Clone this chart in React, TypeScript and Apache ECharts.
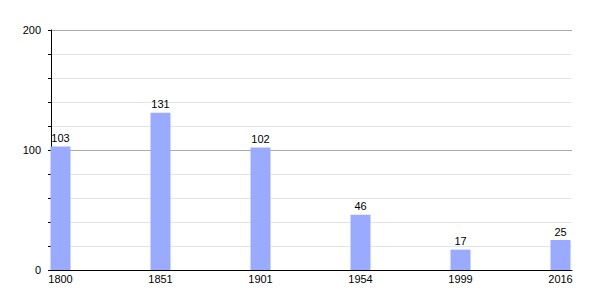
import React, { useEffect, useRef } from "react";
import * as echarts from "echarts";

const years = ["1800", "1851", "1901", "1954", "1999", "2016"];
const population = [103, 131, 102, 46, 17, 25];
const yMin = 0;
const yMax = 200;
const yInterval = 100;

export default function App() {
  const ref = useRef<HTMLDivElement>(null);
  useEffect(() => {
    if (!ref.current) return;
    const chart = echarts.init(ref.current, null, { renderer: "svg" });
    const font = "Liberation Sans, Arial, sans-serif";
    chart.setOption({
      animation: false,
      backgroundColor: "#ffffff",
      textStyle: { fontFamily: font },
      grid: [
        { left: 51, right: 28, top: 30, bottom: 30 },
        { left: 60.5, right: 39.5, top: 30, bottom: 30 },
      ],
      xAxis: [
        {
          type: "value",
          gridIndex: 0,
          min: 0,
          max: 1,
          axisLine: { show: true, lineStyle: { color: "#000", width: 1 } },
          axisTick: { show: false },
          axisLabel: { show: false },
          splitLine: { show: false },
        },
        {
          type: "category",
          gridIndex: 1,
          data: years,
          boundaryGap: false,
          axisLine: { show: false },
          axisTick: { show: false },
          axisLabel: { color: "#000", fontSize: 11, margin: 3, fontFamily: font },
          splitLine: { show: false },
        },
      ],
      yAxis: [
        {
          type: "value",
          gridIndex: 0,
          min: yMin,
          max: yMax,
          interval: yInterval,
          axisLine: { show: true, lineStyle: { color: "#000", width: 1 } },
          axisTick: { show: true, length: 3, lineStyle: { color: "#000" } },
          minorTick: { show: true, splitNumber: 5, length: 3, lineStyle: { color: "#000" } },
          axisLabel: { color: "#000", fontSize: 11, margin: 10, fontFamily: font },
          splitLine: { show: true, lineStyle: { color: "#aaaaaa", width: 1 } },
          minorSplitLine: { show: true, lineStyle: { color: "#e4e4e4", width: 1 } },
        },
        {
          type: "value",
          gridIndex: 1,
          min: yMin,
          max: yMax,
          show: false,
          splitLine: { show: false },
        },
      ],
      series: [
        {
          type: "bar",
          xAxisIndex: 1,
          yAxisIndex: 1,
          data: population,
          barWidth: 20,
          itemStyle: { color: "#9aabff" },
          label: {
            show: true,
            position: "top",
            distance: 3,
            color: "#000",
            fontSize: 11,
            fontFamily: font,
          },
        },
      ],
    });
    return () => chart.dispose();
  }, []);
  return (
    <div
      ref={ref}
      style={{ position: "fixed", left: 0, top: 0, width: 600, height: 300 }}
    />
  );
}
